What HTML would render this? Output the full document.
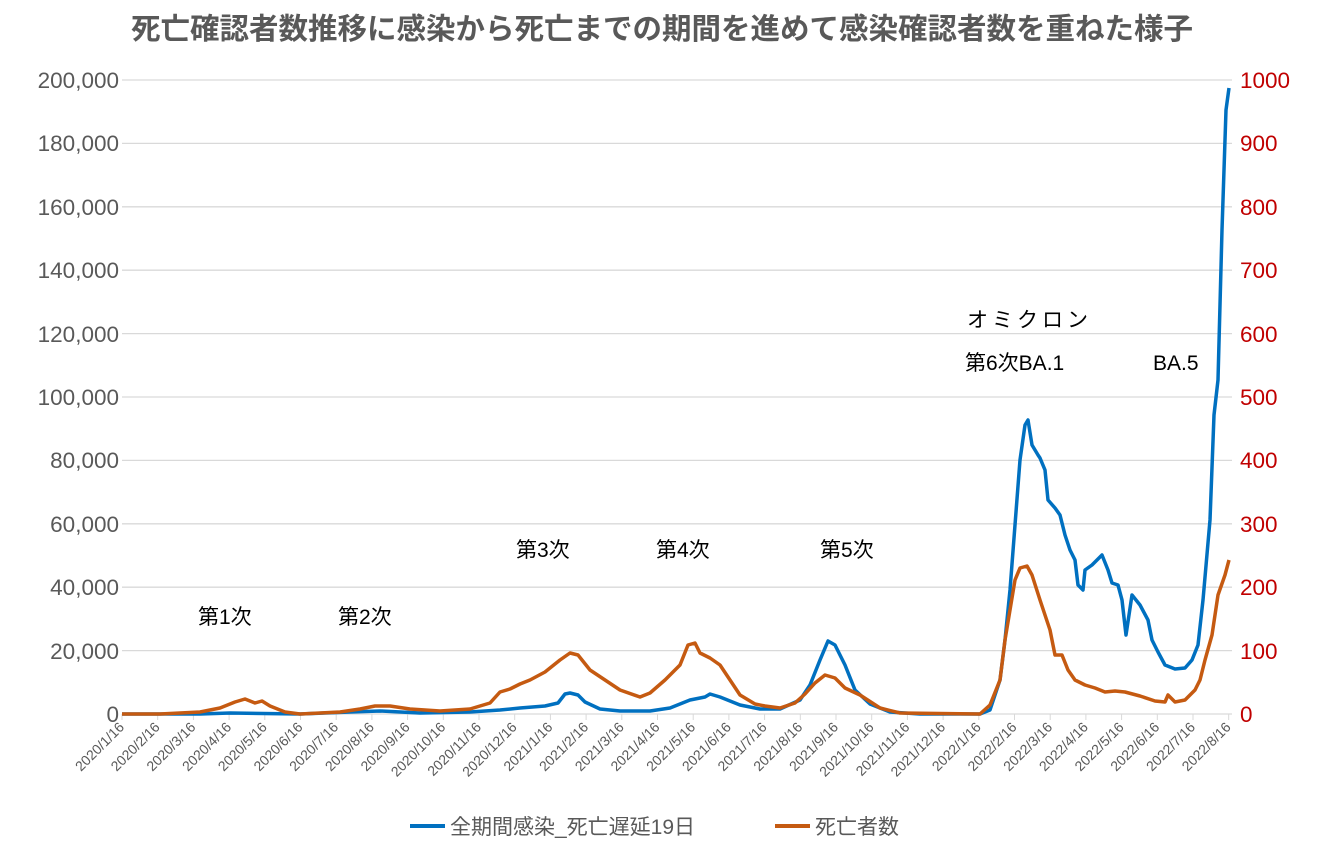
<!DOCTYPE html><html><head><meta charset="utf-8"><style>body{margin:0;background:#fff}svg{display:block;font-family:"Liberation Sans","Noto Sans CJK JP",sans-serif}</style></head><body>
<svg width="1326" height="846" viewBox="0 0 1326 846">
<text x="662" y="39" text-anchor="middle" font-size="29.5" font-weight="bold" fill="#595959">死亡確認者数推移に感染から死亡までの期間を進めて感染確認者数を重ねた様子</text>
<g stroke="#d9d9d9" stroke-width="1.3">
<line x1="122" x2="1232" y1="80" y2="80"/><line x1="122" x2="1232" y1="143.4" y2="143.4"/><line x1="122" x2="1232" y1="206.8" y2="206.8"/><line x1="122" x2="1232" y1="270.2" y2="270.2"/><line x1="122" x2="1232" y1="333.6" y2="333.6"/><line x1="122" x2="1232" y1="397" y2="397"/><line x1="122" x2="1232" y1="460.4" y2="460.4"/><line x1="122" x2="1232" y1="523.8" y2="523.8"/><line x1="122" x2="1232" y1="587.2" y2="587.2"/><line x1="122" x2="1232" y1="650.6" y2="650.6"/><line x1="122" x2="1232" y1="714" y2="714"/>
</g>
<g id="ticks" stroke="#d9d9d9" stroke-width="1"></g>
<g font-size="22.5" fill="#595959" text-anchor="end">
<text x="119" y="88">200,000</text><text x="119" y="151">180,000</text><text x="119" y="215">160,000</text><text x="119" y="278">140,000</text><text x="119" y="342">120,000</text><text x="119" y="405">100,000</text><text x="119" y="468">80,000</text><text x="119" y="532">60,000</text><text x="119" y="595">40,000</text><text x="119" y="659">20,000</text><text x="119" y="722">0</text>
</g>
<g font-size="22.5" fill="#c00000">
<text x="1240" y="88">1000</text><text x="1240" y="151">900</text><text x="1240" y="215">800</text><text x="1240" y="278">700</text><text x="1240" y="342">600</text><text x="1240" y="405">500</text><text x="1240" y="468">400</text><text x="1240" y="532">300</text><text x="1240" y="595">200</text><text x="1240" y="659">100</text><text x="1240" y="722">0</text>
</g>
<g id="xl" font-size="14" fill="#595959" text-anchor="end"></g>
<polyline fill="none" stroke="#0070c0" stroke-width="3.5" stroke-linejoin="round" points="122,714 200,714 230,713 300,714 350,712 380,711 420,713 470,712 500,710 520,708 545,706 558,703 565,694 570,693 578,695 585,702 600,709 620,711 650,711 670,708 690,700 705,697 710,694 720,697 740,705 760,709 780,709 800,700 810,685 820,660 828,641 835,645 845,665 855,690 870,704 890,712 920,714 980,714 990,710 1000,680 1005,640 1010,590 1015,525 1020,460 1025,425 1028,420 1032,445 1038,455 1040,458 1045,470 1048,500 1055,508 1060,515 1065,535 1070,550 1075,560 1078,585 1083,590 1085,570 1092,565 1102,555 1108,570 1112,583 1118,585 1122,600 1126,635 1132,595 1140,605 1148,620 1152,640 1158,652 1165,665 1175,669 1185,668 1192,660 1198,645 1203,600 1210,520 1214,415 1218,380 1222,230 1226,110 1229,88"/>
<polyline fill="none" stroke="#c55a11" stroke-width="3.5" stroke-linejoin="round" points="122,714 160,714 200,712 220,708 235,702 245,699 255,703 262,701 270,706 285,712 300,714 340,712 360,709 375,706 390,706 410,709 440,711 470,709 490,703 500,692 510,689 520,684 530,680 545,672 560,660 570,653 578,655 590,670 605,680 620,690 640,697 650,693 665,680 680,665 688,645 695,643 700,653 710,658 720,665 730,680 740,695 755,704 765,706 780,708 795,703 805,694 815,683 825,675 835,678 845,688 860,695 880,708 900,713 980,714 990,705 1000,680 1005,640 1010,610 1015,580 1020,568 1027,566 1032,575 1040,600 1050,630 1055,655 1062,655 1068,670 1075,680 1085,685 1095,688 1105,692 1115,691 1125,692 1140,696 1155,701 1165,702 1168,695 1172,699 1175,702 1185,700 1195,690 1200,680 1205,660 1212,635 1218,595 1225,575 1229,560"/>
<g font-size="21" fill="#000">
<text x="198" y="624">第1次</text><text x="338" y="624">第2次</text><text x="516" y="557">第3次</text><text x="656" y="557">第4次</text><text x="820" y="557">第5次</text>
<text x="967" y="327" letter-spacing="4">オミクロン</text><text x="965" y="370">第6次BA.1</text><text x="1153" y="370">BA.5</text>
</g>
<line x1="410" x2="445" y1="826" y2="826" stroke="#0070c0" stroke-width="4"/>
<text x="450" y="834" font-size="21" fill="#595959">全期間感染_死亡遅延19日</text>
<line x1="775" x2="810" y1="826" y2="826" stroke="#c55a11" stroke-width="4"/>
<text x="815" y="834" font-size="21" fill="#595959">死亡者数</text>
</svg>
<script>
var ns="http://www.w3.org/2000/svg",xl=document.getElementById("xl"),tk=document.getElementById("ticks");
var m=[];for(var y=2020;y<=2022;y++)for(var k=1;k<=12;k++){if(y==2022&&k>8)break;m.push(y+"/"+k+"/16");}
m.forEach(function(s,i){var x=122+i*35.7;
var l=document.createElementNS(ns,"line");l.setAttribute("x1",x);l.setAttribute("x2",x);l.setAttribute("y1",714);l.setAttribute("y2",720);tk.appendChild(l);
var t=document.createElementNS(ns,"text");t.setAttribute("transform","translate("+(x+3)+",728) rotate(-45)");t.textContent=s;xl.appendChild(t);});
</script>
</body></html>
